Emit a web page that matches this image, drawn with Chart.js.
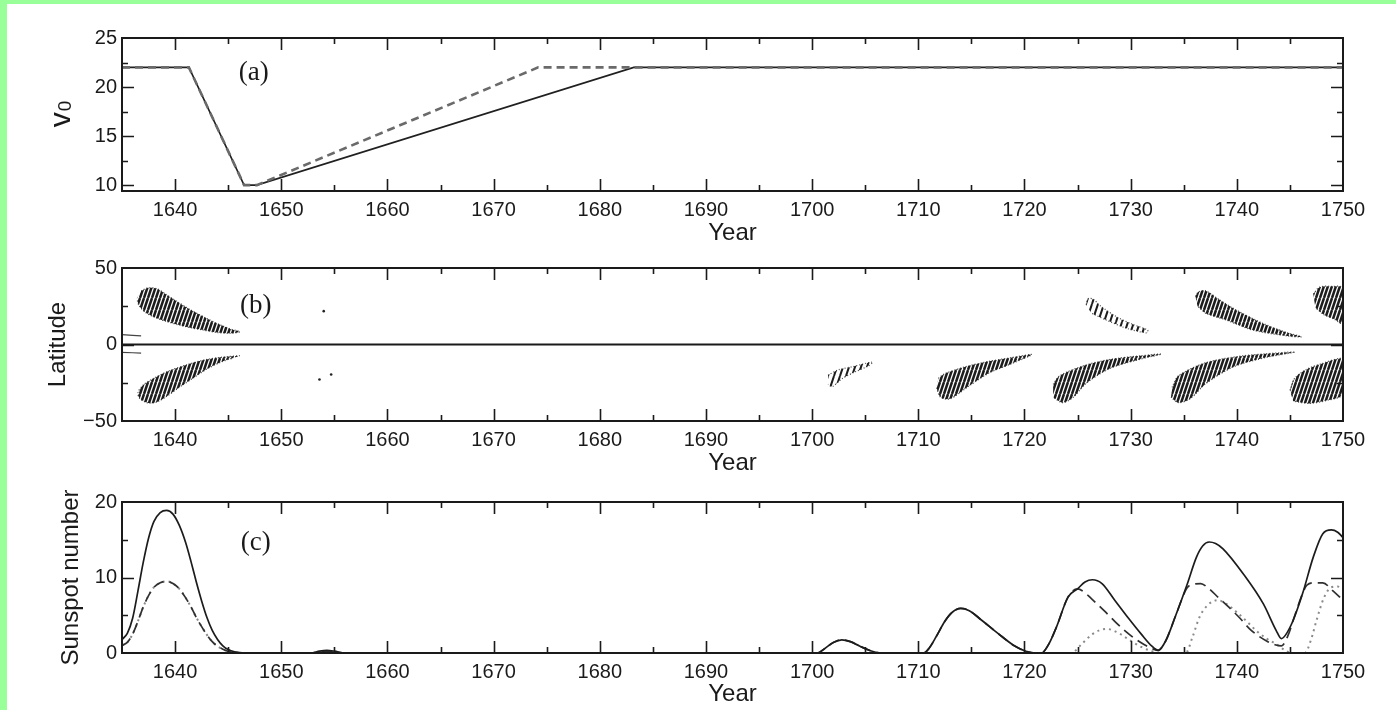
<!DOCTYPE html>
<html lang="en">
<head>
<meta charset="UTF-8">
<title>Meridional flow v0, butterfly diagram and sunspot number, 1635-1750</title>
<script src="https://cdn.jsdelivr.net/npm/chart.js"></script>
<style>
  html, body { margin: 0; padding: 0; background: #fff; }
  body { width: 1396px; height: 710px; position: relative; overflow: hidden; }
  .edge-top { position: absolute; left: 0; top: 0; width: 1396px; height: 4px; background: #99ff99; }
  .edge-left { position: absolute; left: 0; top: 0; width: 7px; height: 710px; background: #99ff99; }
  canvas { position: absolute; left: 0; }
</style>
</head>
<body>
<div class="edge-top"></div>
<div class="edge-left"></div>
<canvas id="chartA" width="1396" height="250" style="top:0"></canvas>
<canvas id="chartB" width="1396" height="230" style="top:250px"></canvas>
<canvas id="chartC" width="1396" height="230" style="top:480px"></canvas>

<script>
// ---- data ----
const yearTicks = [1640, 1650, 1660, 1670, 1680, 1690, 1700, 1710, 1720, 1730, 1740, 1750];

// (a) meridional flow speed v0
const v0Ticks = [10, 15, 20, 25];
const solidV0Years = [1635, 1641.3, 1646.5, 1647.7, 1683.2, 1750];
const solidV0 = [22, 22, 10, 10, 22, 22];
const dashedV0Years = [1635, 1641.3, 1646.5, 1647.7, 1674.2, 1750];
const dashedV0 = [22, 22, 10, 10, 22, 22];

// (b) butterfly diagram, outlines of each wing as [year, latitude]
const latTicks = [-50, 0, 50];
const latTickLabels = ['\u221250', '0', '50'];
const wingN1637 = [[1636.8,35],[1637.4,37],[1638.3,36.5],[1639.2,32.5],[1640.1,28.5],[1641.5,22.5],[1643,17],[1644.2,13],[1645.2,10.2],[1646.1,8.4],[1645.2,7.3],[1644,7.8],[1642.5,9.6],[1640.8,12],[1639.2,15],[1638,18],[1637.2,21],[1636.6,25.5],[1636.4,30]];
const wingS1637 = [[1646.1,-7.3],[1644.5,-8.2],[1642.8,-10],[1641.2,-13],[1639.5,-17],[1638,-22],[1637,-26.5],[1636.5,-31.5],[1636.7,-35.5],[1637.5,-38.3],[1638.3,-37.5],[1639.2,-34],[1640.5,-27.5],[1641.8,-21.5],[1643,-16],[1644.5,-11],[1645.5,-8.8]];
const wingS1702 = [[1701.5,-20],[1702.5,-16.5],[1703.8,-14.5],[1705.7,-11.5],[1705.3,-14],[1704,-18],[1702.8,-22.5],[1701.9,-27.5],[1701.5,-26]];
const wingS1712 = [[1711.9,-22],[1712.5,-19],[1714.2,-15],[1716.3,-11.5],[1718.8,-8.5],[1720.7,-6.6],[1718.8,-12.5],[1716.7,-18.5],[1714.7,-27.5],[1713,-35.5],[1712.1,-34.5],[1711.7,-28]];
const wingS1723 = [[1722.7,-26],[1723.3,-20.5],[1725.5,-14],[1728,-9.8],[1730.9,-7.4],[1732.9,-6.2],[1730.9,-9.6],[1728,-15.8],[1725.8,-25.5],[1724.6,-34.5],[1723.6,-38],[1722.7,-34.5]];
const wingN1726 = [[1725.8,26],[1726,30],[1726.5,29.5],[1727.1,25.5],[1728.7,18],[1730.2,13.2],[1731.6,9.4],[1731.5,7.6],[1729.6,10.6],[1727.7,16],[1726.3,20.5]];
const wingS1734 = [[1733.9,-28],[1734.5,-20.5],[1737.1,-11.8],[1740.3,-7.6],[1742.8,-6],[1745.5,-4.9],[1742.8,-8.4],[1739.7,-14.6],[1737.1,-25.5],[1735.6,-35.5],[1734.5,-38],[1733.8,-34.5]];
const wingN1737 = [[1736.1,31.5],[1736.4,34.5],[1737.1,35],[1738.3,29.5],[1739.7,23.5],[1742.2,14.6],[1744.7,7.8],[1746.1,5],[1744.7,5.6],[1741.5,9.4],[1739,16],[1737.1,20.3],[1736.3,25]];
const wingS1746 = [[1745,-30],[1745.4,-22.5],[1746.5,-16.5],[1748,-12.5],[1750,-9.8],[1750,-32.5],[1748.5,-36.5],[1746.8,-38.5],[1745.3,-37]];
const wingN1748 = [[1747.2,33],[1747.8,37.5],[1749,38],[1750,37],[1750,13.5],[1749.2,16.5],[1748.2,19.5],[1747.4,24]];
const edgeN = [[1635,6.5],[1636,6],[1636.8,5.6]];
const edgeS = [[1635,-5.2],[1636,-5.4],[1636.8,-5.6]];
const specks = [[1654,21.8],[1653.6,-22.9],[1654.7,-19.6]];
const equator = [[1635,0],[1750,0]];

// (c) sunspot number: total (solid), south (dashed), north (dotted)
const spotTicks = [0, 10, 20];
const totalYears = [1635,1635.5,1636,1636.5,1637,1637.5,1638,1638.6,1639.2,1639.8,1640.4,1641,1641.5,1642,1642.5,1643,1643.5,1644,1644.5,1645,1645.6,1646.4,1647,1652.8,1653.6,1654.3,1655,1656,1700.5,1701.2,1702,1702.8,1703.6,1704.5,1705.5,1706.5,1710.5,1711,1711.7,1712.5,1713.2,1714,1714.8,1716,1717.5,1719,1720.2,1721,1721.6,1722.3,1723,1724.1,1725,1725.7,1726.4,1727.3,1728.5,1729.8,1731,1732,1732.6,1733.3,1734.2,1735.3,1736.2,1736.8,1737.4,1738,1738.7,1740.6,1742.5,1743.7,1744.2,1744.6,1745.3,1746.2,1747.2,1748.1,1748.9,1749.5,1750];
const totalSpots = [1.8,2.6,4.6,8.2,12.0,15.2,17.4,18.6,18.9,18.4,16.9,14.6,12.1,9.4,6.9,4.7,3.0,1.8,0.95,0.45,0.15,0.02,0,0,0.25,0.35,0.25,0,0,0.6,1.4,1.75,1.5,0.9,0.3,0,0,0.6,2.2,4.2,5.4,5.9,5.6,4.3,2.6,1.0,0.2,0,0,1.2,3.4,7.4,8.5,9.4,9.7,9.2,7.0,4.6,2.5,0.9,0.35,1.6,4.8,9.0,12.7,14.2,14.7,14.5,13.8,10.5,6.5,3.0,1.9,2.4,4.3,7.9,12.7,15.8,16.3,16.0,15.3];
const southYears = [1635,1635.5,1636,1636.5,1637,1637.5,1638,1638.6,1639.2,1639.8,1640.4,1641,1641.5,1642,1642.5,1643,1643.5,1644,1644.5,1645,1645.6,1646.4,1647,1652.8,1653.6,1654.3,1655,1656,1700.5,1701.2,1702,1702.8,1703.6,1704.5,1705.5,1706.5,1710.5,1711,1711.7,1712.5,1713.2,1714,1714.8,1716,1717.5,1719,1720.2,1721,1721.6,1722.3,1723,1724.1,1725,1725.6,1726.3,1727.5,1728.5,1729.5,1730.5,1731.3,1732,1732.6,1733.3,1734.2,1735.3,1735.9,1736.6,1737.3,1738.3,1739.3,1740.3,1741.2,1742,1742.8,1743.6,1744.2,1744.9,1745.3,1746.2,1746.6,1747.4,1748.1,1749,1750];
const southSpots = [1.0,1.4,2.5,4.2,6.1,7.6,8.7,9.3,9.5,9.2,8.5,7.3,6.1,4.7,3.5,2.4,1.5,0.9,0.5,0.22,0.08,0.01,0,0,0.12,0.18,0.12,0,0,0.6,1.4,1.75,1.5,0.9,0.3,0,0,0.6,2.2,4.2,5.4,5.9,5.6,4.3,2.6,1.0,0.2,0,0,1.2,3.4,7.4,8.5,8.1,7.2,5.6,4.2,2.9,1.8,1.1,0.6,0.35,1.6,4.8,8.6,9.1,9.2,8.6,7.3,6.0,4.6,3.2,2.3,1.6,1.1,0.95,2.6,4.3,7.9,9.0,9.3,9.3,8.3,7.0];
const northYears = [1635,1635.5,1636,1636.5,1637,1637.5,1638,1638.6,1639.2,1639.8,1640.4,1641,1641.5,1642,1642.5,1643,1643.5,1644,1644.5,1645,1645.6,1646.4,1647,1652.8,1653.6,1654.3,1655,1656,1724.4,1725.4,1726.4,1727.7,1728.8,1729.9,1731,1732,1733,1735.2,1735.8,1736.5,1737.3,1738.2,1739,1740,1741,1741.8,1742.8,1743.7,1744.5,1745.1,1746.4,1747,1747.5,1748.2,1748.9,1749.5,1750];
const northSpots = [1.0,1.4,2.5,4.2,6.1,7.6,8.7,9.3,9.5,9.2,8.5,7.3,6.1,4.7,3.5,2.4,1.5,0.9,0.5,0.22,0.08,0.01,0,0,0.12,0.18,0.12,0,0,1.2,2.5,3.2,2.7,1.7,0.8,0.25,0,0,2.0,4.8,6.4,7.0,6.5,5.4,4.1,3.0,1.9,1.2,0.4,0,0,1.8,4.3,7.3,8.7,8.8,8.5];

// ---- shared look ----
const ink = '#1a1a1a';
const sans = '"Liberation Sans", Arial, Helvetica, sans-serif';
const tickFont = {family: sans, size: 20};
const titleFont = {family: sans, size: 24};

const zip = (xs, ys) => xs.map((x, i) => ({x: x, y: ys[i]}));
const pts = arr => arr.map(p => ({x: p[0], y: p[1]}));

// hatch pattern that stands in for the contour strokes of the wings
function hatch(gap, width) {
  const t = document.createElement('canvas');
  t.width = gap; t.height = gap * 3;
  const g = t.getContext('2d');
  g.strokeStyle = '#1c1c1c';
  g.lineWidth = width;
  g.beginPath();
  for (let k = -1; k <= 1; k++) {
    g.moveTo(k * gap, gap * 3);
    g.lineTo(k * gap + gap, 0);
  }
  g.stroke();
  return g.createPattern(t, 'repeat');
}
const denseHatch = hatch(4, 2.5);
const thinHatch = hatch(6, 2);

// frame box with inward major / minor ticks on all four sides
const frameTicks = {
  id: 'frameTicks',
  afterDatasetsDraw(chart, args, o) {
    const {ctx, chartArea: a} = chart;
    const x = chart.scales.x, y = chart.scales.y;
    const isMajor = (v, m) => Math.abs(v / m - Math.round(v / m)) < 1e-6;
    ctx.save();
    ctx.strokeStyle = ink;
    ctx.lineWidth = 1.6;
    ctx.beginPath();
    for (let v = Math.ceil(x.min / o.xMinor) * o.xMinor; v < x.max; v += o.xMinor) {
      if (v <= x.min) continue;
      const px = Math.round(x.getPixelForValue(v)) + 0.5;
      const len = isMajor(v, o.xMajor) ? 12 : 6;
      ctx.moveTo(px, a.bottom); ctx.lineTo(px, a.bottom - len);
      ctx.moveTo(px, a.top); ctx.lineTo(px, a.top + len);
    }
    for (let v = Math.ceil(y.min / o.yMinor) * o.yMinor; v < y.max; v += o.yMinor) {
      if (v <= y.min) continue;
      const py = Math.round(y.getPixelForValue(v)) + 0.5;
      const len = isMajor(v, o.yMajor) ? 12 : 6;
      ctx.moveTo(a.left, py); ctx.lineTo(a.left + len, py);
      ctx.moveTo(a.right, py); ctx.lineTo(a.right - len, py);
    }
    ctx.stroke();
    ctx.lineWidth = 2;
    ctx.strokeRect(a.left, a.top, a.right - a.left, a.bottom - a.top);
    ctx.restore();
  }
};

// "(a)", "(b)", "(c)" placed in data coordinates
const panelTag = {
  id: 'panelTag',
  afterDraw(chart, args, o) {
    const {ctx} = chart;
    ctx.save();
    ctx.fillStyle = ink;
    ctx.font = '27px "Liberation Serif", "Times New Roman", serif';
    ctx.textAlign = 'center';
    ctx.textBaseline = 'middle';
    ctx.fillText(o.text, chart.scales.x.getPixelForValue(o.at[0]), chart.scales.y.getPixelForValue(o.at[1]));
    ctx.restore();
  }
};

// v with a subscript 0, rotated like an axis title
const v0Title = {
  id: 'v0Title',
  afterDraw(chart) {
    const {ctx, chartArea: a} = chart;
    ctx.save();
    ctx.translate(70, (a.top + a.bottom) / 2);
    ctx.rotate(-Math.PI / 2);
    ctx.fillStyle = ink;
    ctx.textBaseline = 'alphabetic';
    ctx.textAlign = 'left';
    ctx.font = '30px ' + sans;
    const wv = ctx.measureText('v').width;
    ctx.font = '19px ' + sans;
    const w0 = ctx.measureText('0').width;
    const start = -(wv + w0) / 2;
    ctx.font = '30px ' + sans;
    ctx.fillText('v', start, 0);
    ctx.font = '19px ' + sans;
    ctx.fillText('0', start + wv + 1, 1);
    ctx.restore();
  }
};

function xAxis(axisHeight, titleBottom) {
  return {
    type: 'linear', min: 1635, max: 1750,
    afterBuildTicks: s => { s.ticks = yearTicks.map(v => ({value: v})); },
    afterFit: s => { s.height = axisHeight; },
    grid: {display: false, drawTicks: false},
    border: {display: false},
    ticks: {font: tickFont, color: ink, padding: 7, maxRotation: 0, autoSkip: false, callback: v => String(v)},
    title: {display: true, text: 'Year', font: titleFont, color: ink, padding: {top: 0, bottom: titleBottom}}
  };
}

function yAxis(min, max, tickVals, labels, title, titleLeft) {
  return {
    type: 'linear', min: min, max: max,
    afterBuildTicks: s => { s.ticks = tickVals.map(v => ({value: v})); },
    afterFit: s => { s.width = 122; },
    grid: {display: false, drawTicks: false},
    border: {display: false},
    ticks: {font: tickFont, color: ink, padding: 5, autoSkip: false,
      callback: (v, i) => labels ? labels[i] : String(v)},
    title: {display: !!title, text: title || '', font: titleFont, color: ink, padding: {top: titleLeft, bottom: 0}}
  };
}

function lineSet(data, color, width, dash, extra) {
  return Object.assign({
    data: data, showLine: true, borderColor: color, borderWidth: width, borderDash: dash,
    pointRadius: 0, fill: false, tension: 0
  }, extra || {});
}

function wingSet(outline, pattern) {
  return {
    data: pts(outline), showLine: true, fill: 'shape', backgroundColor: pattern,
    borderColor: 'rgba(30,30,30,0.8)', borderWidth: 1.2, borderDash: [1, 2],
    pointRadius: 0, tension: 0.3
  };
}

const common = {
  responsive: false, animation: false, events: [],
  plugins: {legend: {display: false}, tooltip: {enabled: false}}
};

// (a)
new Chart(document.getElementById('chartA'), {
  type: 'scatter',
  data: {datasets: [
    lineSet(zip(dashedV0Years, dashedV0), '#6a6a6a', 2.6, [8, 5]),
    lineSet(zip(solidV0Years, solidV0), '#202020', 1.6, [])
  ]},
  options: Object.assign({}, common, {
    layout: {padding: {top: 38, right: 53, bottom: 0, left: 0}},
    scales: {x: xAxis(59, 2), y: yAxis(9.4, 25, v0Ticks, null, null, 0)},
    plugins: Object.assign({}, common.plugins, {
      frameTicks: {xMinor: 5, xMajor: 10, yMinor: 2.5, yMajor: 5},
      panelTag: {text: '(a)', at: [1647.4, 21.4]}
    })
  }),
  plugins: [frameTicks, panelTag, v0Title]
});

// (b)
new Chart(document.getElementById('chartB'), {
  type: 'scatter',
  data: {datasets: [
    lineSet(pts(equator), ink, 2, []),
    wingSet(wingN1637, denseHatch),
    wingSet(wingS1637, denseHatch),
    wingSet(wingS1702, thinHatch),
    wingSet(wingS1712, denseHatch),
    wingSet(wingS1723, denseHatch),
    wingSet(wingN1726, thinHatch),
    wingSet(wingS1734, denseHatch),
    wingSet(wingN1737, denseHatch),
    wingSet(wingS1746, denseHatch),
    wingSet(wingN1748, denseHatch),
    lineSet(pts(edgeN), '#444', 1.2, []),
    lineSet(pts(edgeS), '#444', 1.2, []),
    {data: pts(specks), showLine: false, pointRadius: 1.3, pointBackgroundColor: '#222', pointBorderWidth: 0}
  ]},
  options: Object.assign({}, common, {
    layout: {padding: {top: 18, right: 53, bottom: 0, left: 0}},
    scales: {x: xAxis(59, 2), y: yAxis(-50, 50, latTicks, latTickLabels, 'Latitude', 44)},
    plugins: Object.assign({}, common.plugins, {
      frameTicks: {xMinor: 5, xMajor: 10, yMinor: 25, yMajor: 50},
      panelTag: {text: '(b)', at: [1647.6, 25.2]}
    })
  }),
  plugins: [frameTicks, panelTag]
});

// (c)
new Chart(document.getElementById('chartC'), {
  type: 'scatter',
  data: {datasets: [
    lineSet(zip(totalYears, totalSpots), '#1c1c1c', 1.7, [], {cubicInterpolationMode: 'monotone'}),
    lineSet(zip(southYears, southSpots), '#303030', 1.7, [11, 6], {cubicInterpolationMode: 'monotone'}),
    lineSet(zip(northYears, northSpots), '#8a8a8a', 2, [2, 4], {cubicInterpolationMode: 'monotone'})
  ]},
  options: Object.assign({}, common, {
    layout: {padding: {top: 22, right: 53, bottom: 0, left: 0}},
    scales: {x: xAxis(57, 1), y: yAxis(0, 20, spotTicks, null, 'Sunspot number', 57)},
    plugins: Object.assign({}, common.plugins, {
      frameTicks: {xMinor: 5, xMajor: 10, yMinor: 5, yMajor: 10},
      panelTag: {text: '(c)', at: [1647.6, 14.6]}
    })
  }),
  plugins: [frameTicks, panelTag]
});
</script>
</body>
</html>
